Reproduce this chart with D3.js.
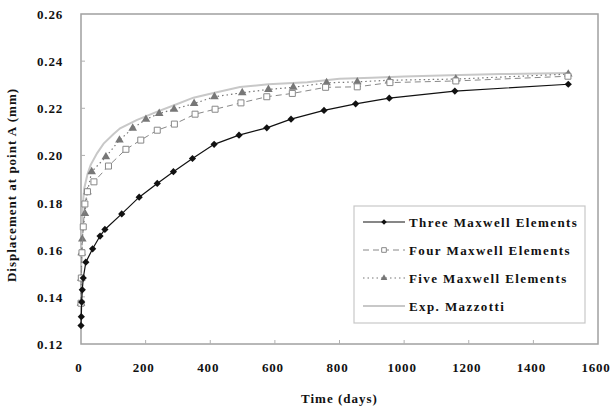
<!DOCTYPE html>
<html>
<head>
<meta charset="utf-8">
<script src="https://cdn.jsdelivr.net/npm/d3@7"></script>
<style>
  body { margin: 0; background: #fff; }
  text { font-family: "Liberation Serif", "Times New Roman", serif; font-weight: bold; fill: #111; }
  .tick-label { font-size: 13px; letter-spacing: 0.8px; }
  .axis-title { font-size: 13px; letter-spacing: 1px; }
  .legend-text { font-size: 13px; letter-spacing: 1.4px; }
</style>
</head>
<body>
<div id="chart"></div>
<script>
// ---- data ----
let threeT = [0, 1, 2, 4, 7, 15, 36, 59, 74, 126, 180, 236, 286, 345, 412, 489, 575, 650, 752, 850, 954, 1157, 1508];
let threeY = [0.1278, 0.1316, 0.1378, 0.143, 0.148, 0.1547, 0.1604, 0.1658, 0.1686, 0.1752, 0.1823, 0.1881, 0.1931, 0.1987, 0.2047, 0.2086, 0.2117, 0.2154, 0.2191, 0.2219, 0.2243, 0.2273, 0.2302];

let fourT = [0, 1, 3, 7, 12, 20, 40, 85, 139, 185, 236, 289, 353, 415, 495, 575, 654, 757, 855, 956, 1160, 1507];
let fourY = [0.1373, 0.148, 0.1587, 0.1697, 0.1794, 0.1846, 0.1888, 0.1955, 0.2026, 0.2065, 0.2107, 0.2133, 0.2175, 0.2196, 0.2223, 0.2249, 0.2263, 0.2289, 0.2291, 0.2309, 0.2316, 0.2336];

let fiveT = [0, 1, 2, 4, 12, 20, 33, 77, 119, 160, 201, 242, 288, 350, 413, 499, 580, 657, 760, 855, 954, 1160, 1508];
let fiveY = [0.1373, 0.1479, 0.1587, 0.1645, 0.1754, 0.1846, 0.1931, 0.1994, 0.2065, 0.2115, 0.2153, 0.2178, 0.2196, 0.222, 0.2249, 0.2266, 0.228, 0.2289, 0.2308, 0.2312, 0.2319, 0.2324, 0.2345];

let expT = [0, 2, 5, 10, 20, 30, 50, 70, 100, 121, 172, 234, 286, 348, 410, 492, 580, 700, 800, 900, 1000, 1142, 1300, 1510];
let expY = [0.148, 0.165, 0.178, 0.186, 0.192, 0.196, 0.201, 0.205, 0.209, 0.2115, 0.215, 0.2185, 0.2212, 0.2245, 0.2265, 0.229, 0.2302, 0.231, 0.2325, 0.233, 0.2335, 0.234, 0.2345, 0.235];

let xTicks = [0, 200, 400, 600, 800, 1000, 1200, 1400, 1600];
let yTicks = [0.12, 0.14, 0.16, 0.18, 0.20, 0.22, 0.24, 0.26];

let seriesNames = ["Three Maxwell Elements", "Four Maxwell Elements", "Five Maxwell Elements", "Exp. Mazzotti"];

function zip(t, y) { return t.map((d, i) => ({ t: d, y: y[i] })); }

let series = [
  { name: seriesNames[3], data: zip(expT, expY), color: "#c8c8c8", width: 2, dash: null, marker: null },
  { name: seriesNames[2], data: zip(fiveT, fiveY), color: "#777", width: 1.2, dash: "1.5,3", marker: "triangle" },
  { name: seriesNames[1], data: zip(fourT, fourY), color: "#888", width: 1, dash: "6,4", marker: "square" },
  { name: seriesNames[0], data: zip(threeT, threeY), color: "#111", width: 1.2, dash: null, marker: "diamond" }
];

// ---- layout ----
let W = 611, H = 407;
let margin = { top: 14, right: 13, bottom: 63, left: 81 };
let width = W - margin.left - margin.right;
let height = H - margin.top - margin.bottom;

let svg = d3.select("#chart").append("svg")
  .attr("width", W)
  .attr("height", H);

let g = svg.append("g")
  .attr("transform", "translate(" + margin.left + "," + margin.top + ")");

let x = d3.scaleLinear().domain([0, 1600]).range([0, width]);
let y = d3.scaleLinear().domain([0.12, 0.26]).range([height, 0]);

// frame
g.append("rect")
  .attr("width", width)
  .attr("height", height)
  .attr("fill", "none")
  .attr("stroke", "#a0a0a0")
  .attr("stroke-width", 1.5);

// inner ticks
g.selectAll(".xtick").data(xTicks.slice(1, -1)).enter()
  .append("line")
  .attr("x1", d => x(d)).attr("x2", d => x(d))
  .attr("y1", height).attr("y2", height - 4)
  .attr("stroke", "#b0b0b0");

g.selectAll(".ytick").data(yTicks.slice(1, -1)).enter()
  .append("line")
  .attr("x1", 0).attr("x2", 4)
  .attr("y1", d => y(d)).attr("y2", d => y(d))
  .attr("stroke", "#b0b0b0");

// tick labels
g.selectAll(".xlab").data(xTicks).enter()
  .append("text")
  .attr("class", "tick-label")
  .attr("x", d => x(d) - 2)
  .attr("y", height + 28)
  .attr("text-anchor", "middle")
  .text(d => d);

g.selectAll(".ylab").data(yTicks).enter()
  .append("text")
  .attr("class", "tick-label")
  .attr("x", -18)
  .attr("y", d => y(d) + 5)
  .attr("text-anchor", "end")
  .text(d => d.toFixed(2));

// axis titles
g.append("text")
  .attr("class", "axis-title")
  .attr("x", width / 2)
  .attr("y", height + 59)
  .attr("text-anchor", "middle")
  .text("Time (days)");

g.append("text")
  .attr("class", "axis-title")
  .attr("transform", "translate(" + (-65) + "," + (height / 2 + 6) + ") rotate(-90)")
  .attr("text-anchor", "middle")
  .text("Displacement at point A (mm)");

// lines
let line = d3.line().x(d => x(d.t)).y(d => y(d.y));

function markerPath(type, big) {
  let k = big ? 1 : 0.6;
  if (type === "diamond") return d3.symbol().type(d3.symbolSquare).size(26 * k)();
  if (type === "square") return d3.symbol().type(d3.symbolSquare).size(36 * k)();
  return d3.symbol().type(d3.symbolTriangle).size(32 * k)();
}

function drawMarker(sel, s, big) {
  sel.attr("d", markerPath(s.marker, big))
    .attr("fill", s.marker === "square" ? "#fff" : s.color)
    .attr("stroke", s.marker === "square" ? s.color : "none")
    .attr("stroke-width", 1);
}

// diamonds are squares turned 45 degrees
function rot(s) { return s.marker === "diamond" ? " rotate(45)" : ""; }

series.forEach(function (s) {
  g.append("path")
    .datum(s.data)
    .attr("fill", "none")
    .attr("stroke", s.color)
    .attr("stroke-width", s.width)
    .attr("stroke-dasharray", s.dash)
    .attr("d", line);

  if (s.marker) {
    g.selectAll(".m-" + s.marker).data(s.data).enter()
      .append("path")
      .attr("transform", d => "translate(" + x(d.t) + "," + y(d.y) + ")" + rot(s))
      .call(drawMarker, s, true);
  }
});

// legend
let legend = svg.append("g").attr("transform", "translate(354,206)");
legend.append("rect")
  .attr("width", 231)
  .attr("height", 117)
  .attr("fill", "#fff")
  .attr("stroke", "#c8c8c8")
  .attr("stroke-width", 1.2);

let legendOrder = [series[3], series[2], series[1], series[0]];
legendOrder.forEach(function (s, i) {
  let ly = 16 + i * 28;
  let lg = legend.append("g").attr("transform", "translate(0," + ly + ")");
  lg.append("line")
    .attr("x1", 9).attr("x2", 51)
    .attr("y1", 0).attr("y2", 0)
    .attr("stroke", s.color)
    .attr("stroke-width", s.width)
    .attr("stroke-dasharray", s.dash);
  if (s.marker) {
    lg.append("path")
      .attr("transform", "translate(30,0)" + rot(s))
      .call(drawMarker, s, false);
  }
  lg.append("text")
    .attr("class", "legend-text")
    .attr("x", 55)
    .attr("y", 4.5)
    .text(s.name);
});
</script>
</body>
</html>
